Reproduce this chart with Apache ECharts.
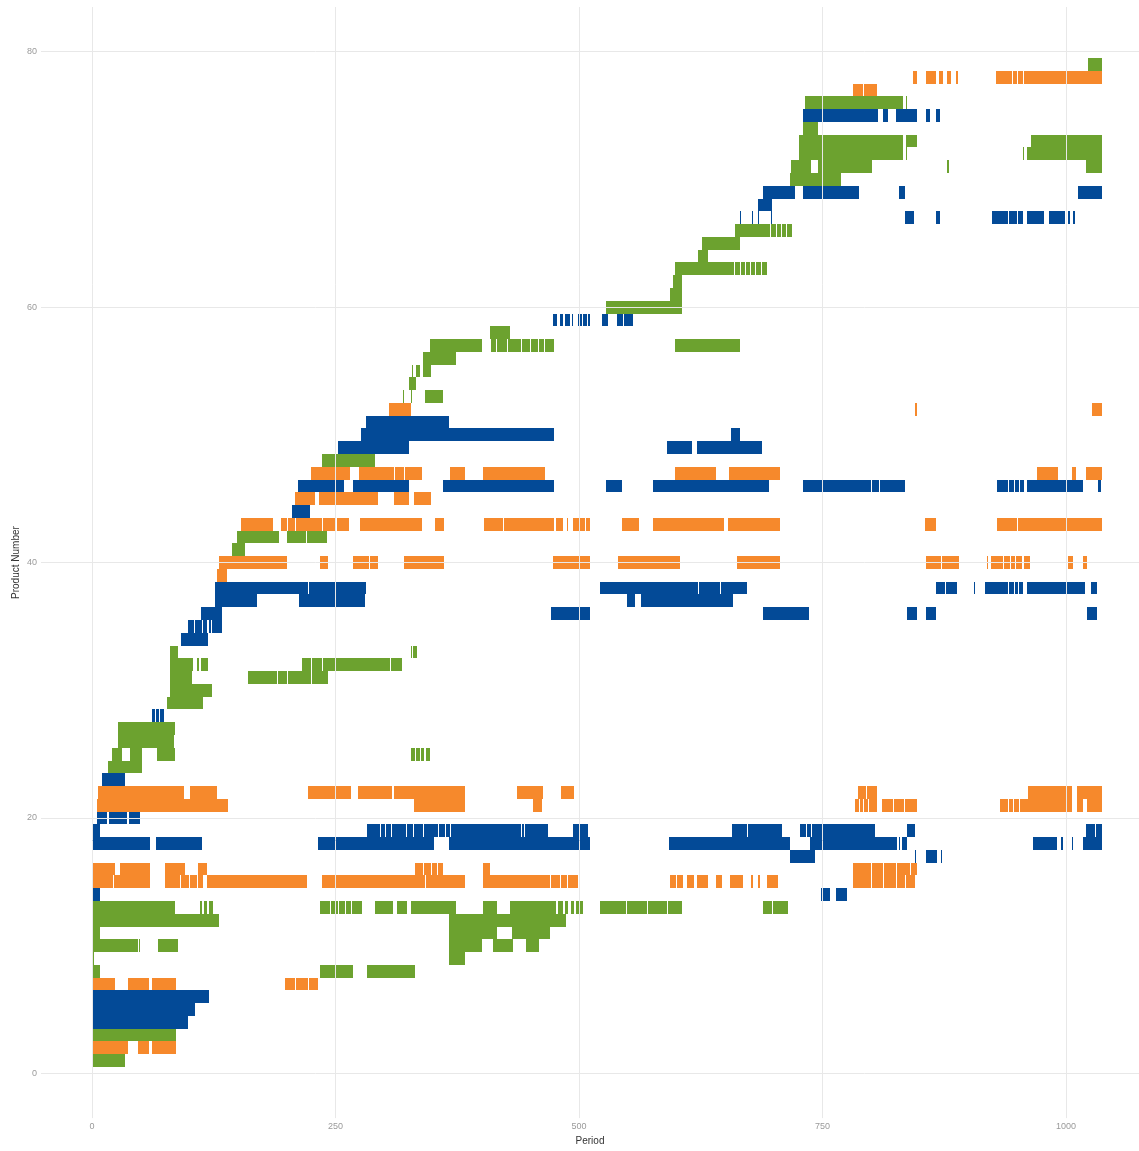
<!DOCTYPE html>
<html>
<head>
<meta charset="utf-8">
<script src="https://cdn.jsdelivr.net/npm/echarts@6/dist/echarts.min.js"></script>
<style>
  html, body { margin: 0; padding: 0; background: #ffffff; }
  #chart { width: 1139px; height: 1151px; }
</style>
</head>
<body>
<div id="chart"></div>
<script>
// Tick positions
const periodTicks = [0, 250, 500, 750, 1000];
const productTicks = [0, 20, 40, 60, 80];

// Activity spans per group: [product, first period, last period]
const greenSpans = [
  [1,0,34],
  [3,0,86],
  [8,0,8],[8,234,268],[8,282,332],
  [9,0,2],[9,367,383],
  [10,0,47],[10,48,49],[10,68,88],[10,367,400],[10,412,432],[10,446,459],
  [11,0,8],[11,367,416],[11,431,470],
  [12,0,130],[12,367,487],
  [13,0,85],[13,111,113],[13,115,118],[13,120,124],[13,234,244],[13,245,253],[13,254,260],[13,261,266],[13,267,277],
  [13,290,309],[13,313,323],[13,327,374],[13,401,416],[13,429,476],[13,478,484],[13,486,489],[13,492,495],[13,497,504],
  [13,522,548],[13,549,570],[13,571,590],[13,591,606],[13,689,698],[13,699,715],
  [24,16,51],
  [25,20,31],[25,39,51],[25,67,85],[25,327,332],[25,333,337],[25,338,341],[25,343,347],
  [26,27,84],
  [27,27,85],
  [29,77,114],
  [30,80,123],
  [31,80,103],[31,160,190],[31,191,200],[31,201,225],[31,226,242],
  [32,80,104],[32,108,110],[32,112,119],[32,216,225],[32,226,236],[32,237,290],[32,291,306],[32,307,318],
  [33,80,88],[33,327,329],[33,330,334],
  [41,144,157],
  [42,149,192],[42,200,220],[42,221,241],
  [48,236,290],
  [53,319,320],[53,327,328],[53,342,360],
  [54,325,333],
  [55,329,330],[55,333,337],[55,340,348],
  [56,340,374],
  [57,347,400],[57,410,415],[57,416,426],[57,427,440],[57,441,450],[57,451,458],[57,459,464],[57,465,474],[57,599,665],
  [58,409,429],
  [60,528,606],
  [61,593,606],
  [62,596,606],
  [63,599,659],[63,660,665],[63,666,670],[63,671,676],[63,677,681],[63,682,687],[63,688,693],
  [64,622,632],
  [65,626,665],
  [66,660,696],[66,697,702],[66,703,707],[66,708,712],[66,713,719],
  [70,717,769],
  [71,718,738],[71,745,801],[71,878,880],[71,1020,1037],
  [72,726,833],[72,836,837],[72,956,957],[72,960,1037],
  [73,726,833],[73,836,847],[73,964,1037],
  [74,730,745],
  [76,732,833],[76,836,837],
  [79,1023,1037]
];

const orangeSpans = [
  [2,0,37],[2,47,58],[2,62,86],
  [7,0,24],[7,37,58],[7,62,86],[7,198,208],[7,209,222],[7,223,232],
  [15,0,22],[15,23,60],[15,75,90],[15,91,100],[15,101,108],[15,109,114],[15,118,221],[15,236,342],[15,343,383],
  [15,401,470],[15,471,480],[15,481,488],[15,489,499],
  [15,593,600],[15,601,607],[15,611,618],[15,621,632],[15,641,647],[15,655,668],[15,677,679],[15,684,686],[15,693,704],
  [15,781,790],[15,791,800],[15,801,812],[15,813,825],[15,826,835],[15,836,845],
  [16,0,24],[16,29,60],[16,75,95],[16,109,118],[16,332,340],[16,341,348],[16,349,354],[16,355,360],[16,401,409],
  [16,781,790],[16,791,800],[16,801,812],[16,813,825],[16,826,840],[16,841,847],
  [21,5,140],[21,331,383],[21,453,462],[21,783,787],[21,788,792],[21,793,797],[21,798,806],[21,811,822],[21,823,834],[21,835,847],
  [21,932,940],[21,941,946],[21,947,952],[21,953,1006],[21,1011,1017],[21,1021,1037],
  [22,6,94],[22,101,128],[22,222,266],[22,273,308],[22,310,383],[22,436,463],[22,481,495],
  [22,786,790],[22,791,795],[22,796,806],[22,961,1006],[22,1011,1037],
  [39,128,139],
  [40,130,200],[40,234,242],[40,268,284],[40,285,294],[40,320,361],[40,473,511],[40,540,604],[40,662,706],
  [40,856,872],[40,873,890],[40,919,920],[40,923,935],[40,936,942],[40,943,948],[40,949,955],[40,957,963],[40,1002,1007],[40,1017,1021],
  [43,153,186],[43,194,200],[43,201,208],[43,209,236],[43,237,250],[43,251,264],[43,275,339],[43,352,361],
  [43,402,422],[43,423,474],[43,476,484],[43,488,489],[43,494,500],[43,501,506],[43,507,511],
  [43,544,562],[43,576,649],[43,653,706],[43,855,866],[43,929,950],[43,951,1037],
  [45,208,229],[45,233,294],[45,310,325],[45,331,348],
  [47,225,265],[47,274,310],[47,311,320],[47,321,339],[47,368,383],[47,401,465],[47,599,641],[47,654,706],
  [47,970,992],[47,1006,1010],[47,1020,1037],
  [52,305,327],[52,845,847],[52,1027,1037],
  [77,781,792],[77,793,806],
  [78,843,847],[78,856,866],[78,870,874],[78,878,882],[78,887,889],[78,928,945],[78,946,950],[78,951,956],[78,957,1037]
];

const blueSpans = [
  [4,0,99],[5,0,106],[6,0,120],
  [14,0,8],[14,748,758],[14,764,775],
  [17,0,1],[17,717,742],[17,845,846],[17,856,868],[17,872,873],
  [18,0,60],[18,66,113],[18,232,351],[18,366,511],[18,592,717],[18,737,826],[18,828,830],[18,832,837],
  [18,966,991],[18,995,997],[18,1006,1007],[18,1017,1037],
  [19,0,8],[19,282,290],[19,291,296],[19,297,301],[19,302,307],[19,308,322],[19,323,330],[19,331,340],[19,341,355],
  [19,356,362],[19,363,368],[19,369,440],[19,441,444],[19,445,468],[19,494,500],[19,501,509],
  [19,657,672],[19,673,708],[19,727,733],[19,734,738],[19,739,804],[19,837,845],[19,1020,1030],[19,1031,1037],
  [20,5,15],[20,17,36],[20,38,49],
  [23,10,34],
  [28,62,65],[28,66,69],[28,70,74],
  [34,91,119],
  [35,99,105],[35,106,113],[35,114,118],[35,120,122],[35,123,133],
  [36,112,133],[36,471,511],[36,689,736],[36,837,847],[36,856,866],[36,1021,1032],
  [37,126,169],[37,212,280],[37,549,557],[37,564,658],
  [38,126,222],[38,223,281],[38,522,622],[38,623,645],[38,646,672],[38,866,876],[38,877,888],[38,906,907],
  [38,917,940],[38,941,947],[38,948,951],[38,952,956],[38,960,1019],[38,1026,1032],
  [44,205,224],
  [46,211,259],[46,268,325],[46,360,474],[46,528,544],[46,576,695],[46,730,800],[46,801,808],[46,809,835],
  [46,929,940],[46,941,947],[46,948,952],[46,953,957],[46,960,1017],[46,1033,1036],
  [49,253,325],[49,590,616],[49,621,688],
  [50,276,474],[50,656,665],
  [51,281,366],
  [59,473,477],[59,480,484],[59,486,491],[59,493,494],[59,499,503],[59,504,508],[59,509,511],[59,524,530],[59,539,545],[59,546,555],
  [67,665,666],[67,678,679],[67,684,685],[67,697,698],[67,835,844],[67,866,871],[67,924,940],[67,941,950],[67,951,956],
  [67,960,977],[67,983,999],[67,1002,1004],[67,1007,1009],
  [68,684,698],
  [69,689,722],[69,730,787],[69,828,835],[69,1012,1037],
  [75,730,807],[75,812,817],[75,825,847],[75,856,860],[75,866,871]
];

const groupColors = ['#6ca22f', '#f6892c', '#034a97'];

// Each span is a one-product-tall rectangle between its first and last period,
// snapped to whole pixels so that stacked rows join without seams
function renderSpan(params, api) {
  const product = api.value(0);
  const start = api.value(1);
  const end = api.value(2);
  const topLeft = api.coord([start, product + 0.5]);
  const bottomRight = api.coord([end, product - 0.5]);
  const x0 = Math.round(topLeft[0]);
  const x1 = Math.max(Math.round(bottomRight[0]), x0 + 1);
  const y0 = Math.round(topLeft[1]);
  const y1 = Math.round(bottomRight[1]);
  return {
    type: 'rect',
    shape: { x: x0, y: y0, width: x1 - x0, height: y1 - y0 },
    style: { fill: api.visual('color') }
  };
}

function spanSeries(name, data, color) {
  return {
    name: name,
    type: 'custom',
    renderItem: renderSpan,
    encode: { x: [1, 2], y: 0 },
    itemStyle: { color: color },
    data: data,
    z: 3
  };
}

const chart = echarts.init(document.getElementById('chart'), null, { renderer: 'canvas' });

chart.setOption({
  animation: false,
  backgroundColor: '#ffffff',
  grid: { left: 41, top: 7, right: 0, height: 1114 },
  xAxis: {
    type: 'value',
    min: -52.4,
    max: 1074.9,
    name: 'Period',
    nameLocation: 'middle',
    nameGap: 16,
    nameTextStyle: { color: '#333333', fontSize: 10, fontFamily: 'Liberation Sans, Arial, sans-serif' },
    axisLine: { show: false },
    axisTick: { show: false },
    splitLine: { show: false },
    axisLabel: {
      customValues: periodTicks,
      formatter: v => String(v),
      color: '#9a9a9a',
      fontSize: 9,
      margin: 4,
      fontFamily: 'Liberation Sans, Arial, sans-serif'
    }
  },
  yAxis: {
    type: 'value',
    min: -3.5,
    max: 83.5,
    name: 'Product Number',
    nameLocation: 'middle',
    nameGap: 20,
    nameMoveOverlap: false,
    nameRotate: 90,
    nameTextStyle: { color: '#333333', fontSize: 10, fontFamily: 'Liberation Sans, Arial, sans-serif' },
    axisLine: { show: false },
    axisTick: { show: false },
    splitLine: { show: false },
    axisLabel: {
      customValues: productTicks,
      color: '#9a9a9a',
      fontSize: 9,
      margin: 4,
      fontFamily: 'Liberation Sans, Arial, sans-serif'
    }
  },
  series: [
    {
      name: 'grid',
      type: 'line',
      data: [],
      z: 1,
      silent: true,
      markLine: {
        silent: true,
        symbol: 'none',
        animation: false,
        label: { show: false },
        lineStyle: { color: '#e8e8e8', width: 1, type: 'solid' },
        data: periodTicks.map(v => ({ xAxis: v })).concat(productTicks.map(v => ({ yAxis: v })))
      }
    },
    spanSeries('Group A', greenSpans, groupColors[0]),
    spanSeries('Group B', orangeSpans, groupColors[1]),
    spanSeries('Group C', blueSpans, groupColors[2])
  ]
});
</script>
</body>
</html>
